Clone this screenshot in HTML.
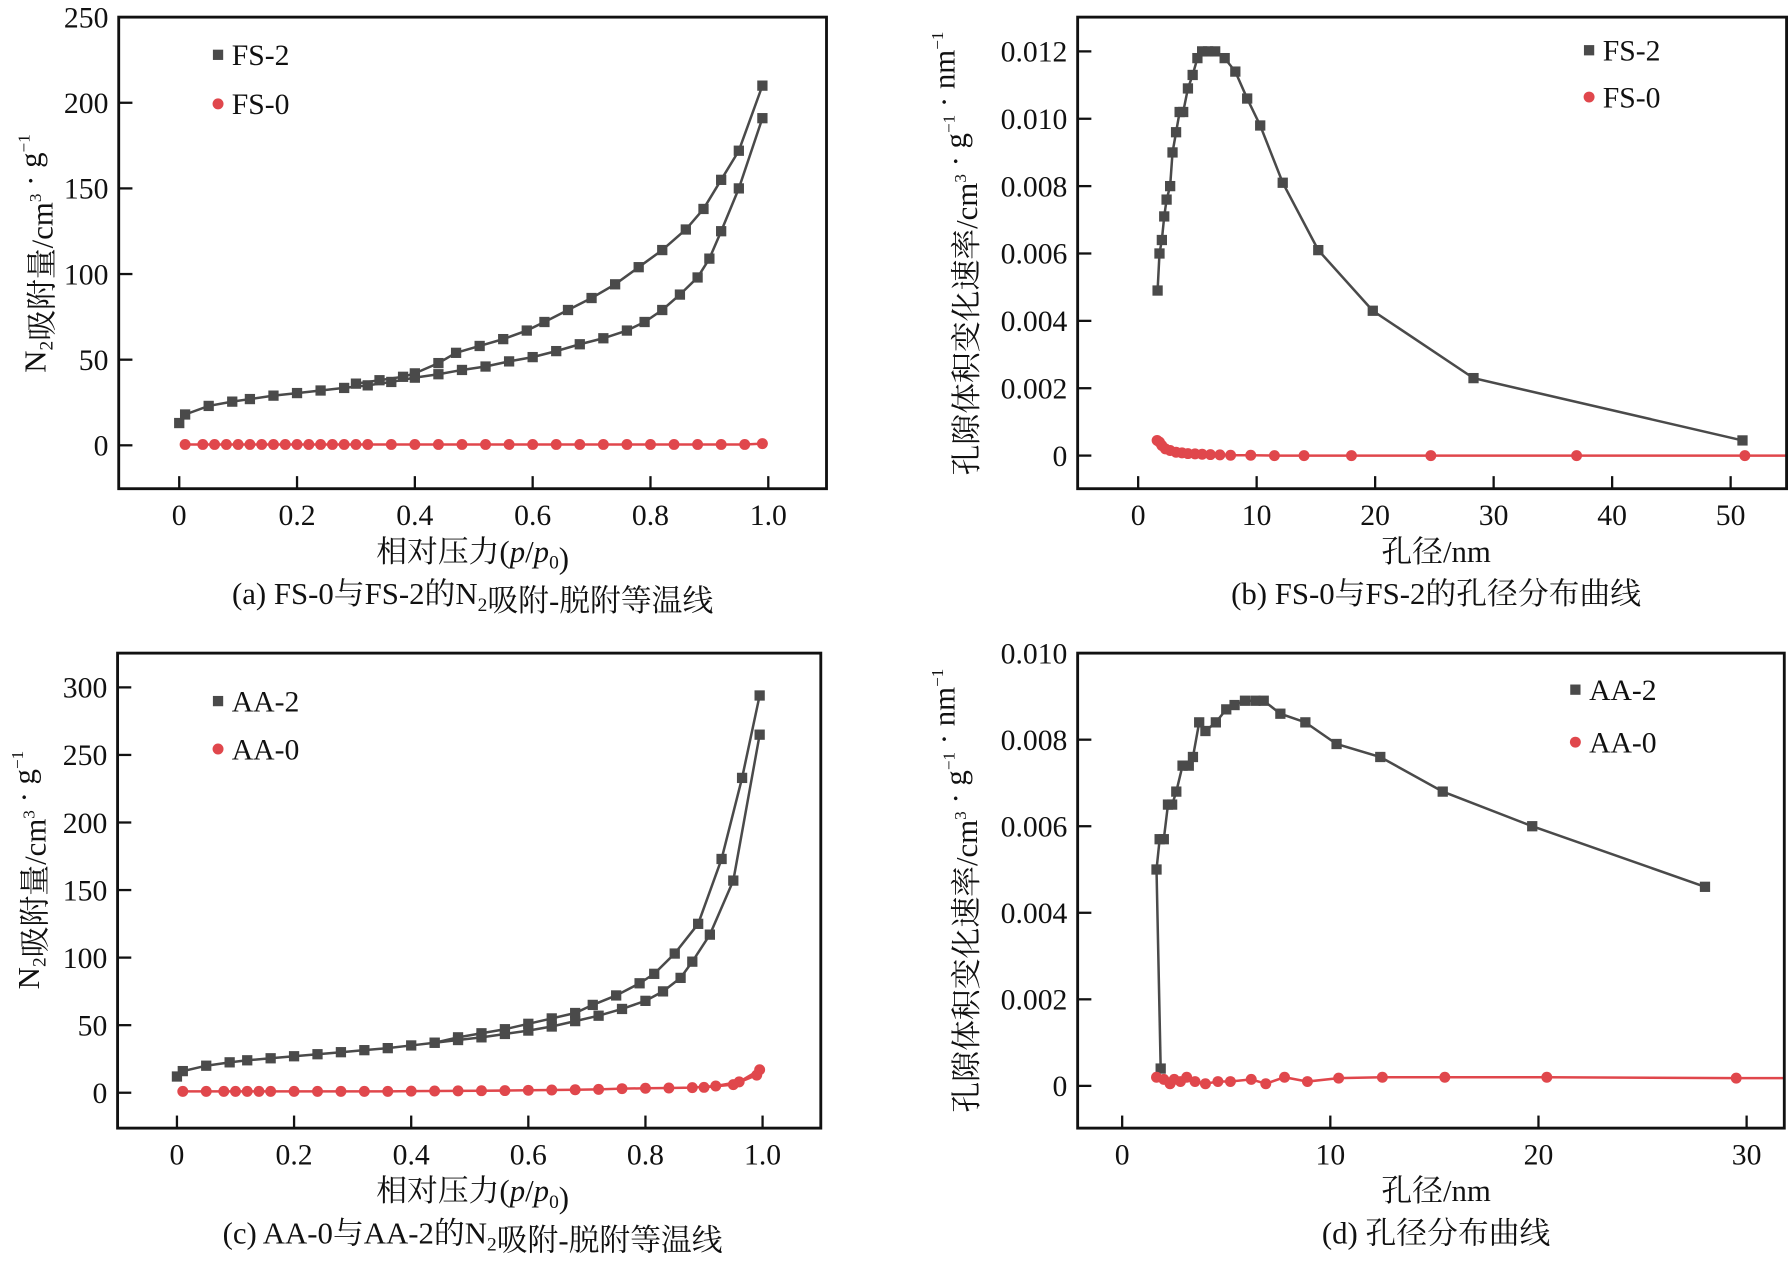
<!DOCTYPE html>
<html><head><meta charset="utf-8"><style>
html,body{margin:0;padding:0;background:#fff;width:1790px;height:1264px;overflow:hidden}
svg{display:block}
text{font-family:"Liberation Serif","Noto Serif CJK SC",serif;fill:#111}
</style></head><body>
<svg id="fig" width="1790" height="1264" viewBox="0 0 1568 1107" preserveAspectRatio="none" xmlns="http://www.w3.org/2000/svg"></svg>
<script>
// ---------- Data ----------
const aFs2AdsX=[0,0.01,0.05,0.09,0.12,0.16,0.2,0.24,0.28,0.32,0.36,0.40,0.44,0.48,0.52,0.56,0.60,0.64,0.68,0.72,0.76,0.79,0.82,0.85,0.88,0.9,0.92,0.95,0.99];
const aFs2AdsY=[13,18,23,25.5,27,29,30.5,32,33.5,35,37,39.5,41.5,44,46,49,51.5,55,59,62.5,67,72,79,88,98,109,125,150,191];
const aFs2DesX=[0.99,0.95,0.92,0.89,0.86,0.82,0.78,0.74,0.70,0.66,0.62,0.59,0.55,0.51,0.47,0.44,0.40,0.38,0.34,0.30];
const aFs2DesY=[210,172,155,138,126,114,104,94,86,79,72,67,62,58,54,48,42,40,38,36];
const aFs0X=[0.01,0.04,0.06,0.08,0.1,0.12,0.14,0.16,0.18,0.2,0.22,0.24,0.26,0.28,0.3,0.32,0.36,0.4,0.44,0.48,0.52,0.56,0.6,0.64,0.68,0.72,0.76,0.8,0.84,0.88,0.92,0.96,0.99];
const aFs0Y=[0.5,0.5,0.5,0.5,0.5,0.5,0.5,0.5,0.5,0.5,0.5,0.5,0.5,0.5,0.5,0.5,0.5,0.5,0.5,0.5,0.5,0.5,0.5,0.5,0.5,0.5,0.5,0.5,0.5,0.5,0.5,0.5,1];
const bFs2X=[1.64,1.8,2.0,2.2,2.4,2.7,2.9,3.2,3.5,3.8,4.2,4.6,5.0,5.4,5.9,6.5,7.3,8.2,9.2,10.3,12.2,15.2,19.8,28.3,51];
const bFs2Y=[0.0049,0.0060,0.0064,0.0071,0.0076,0.0080,0.0090,0.0096,0.0102,0.0102,0.0109,0.0113,0.0118,0.0120,0.0120,0.0120,0.0118,0.0114,0.0106,0.0098,0.0081,0.0061,0.0043,0.0023,0.00045];
const bFs0X=[1.6,1.8,2.0,2.3,2.7,3.2,3.7,4.2,4.8,5.4,6.1,6.9,7.8,9.5,11.5,14,18,24.7,37,51.2];
const bFs0Y=[0.00045,0.0004,0.0003,0.0002,0.00015,0.0001,0.00008,0.00006,0.00005,0.00004,0.00003,0.00002,0.00001,0.00001,0,0,0,0,0,0];
const cAa2AdsX=[0,0.01,0.05,0.09,0.12,0.16,0.2,0.24,0.28,0.32,0.36,0.40,0.44,0.48,0.52,0.56,0.60,0.64,0.68,0.72,0.76,0.80,0.83,0.86,0.88,0.91,0.95,0.995];
const cAa2AdsY=[12,16,20,22.5,24,25.5,27,28.5,30,31.5,33,35,37,39,41,43.5,46,49,53,57,62,68,75,85,97,117,157,265];
const cAa2DesX=[0.995,0.965,0.93,0.89,0.85,0.815,0.79,0.75,0.71,0.68,0.64,0.60,0.56,0.52,0.48,0.44];
const cAa2DesY=[294,233,173,125,103,88,81,72,65,59,55,51,47,44,41,37];
const cAa0X=[0.01,0.05,0.08,0.1,0.12,0.14,0.16,0.2,0.24,0.28,0.32,0.36,0.4,0.44,0.48,0.52,0.56,0.6,0.64,0.68,0.72,0.76,0.8,0.84,0.88,0.92,0.96,0.995,0.99,0.95,0.9];
const cAa0Y=[1,1,1,1,1,1,1,1,1,1,1,1,1.2,1.3,1.4,1.5,1.6,1.8,2,2.2,2.5,3,3.3,3.5,3.8,5,8,17,13,6,4];
const dAa2X=[1.85,1.65,1.8,2.0,2.2,2.4,2.6,2.9,3.2,3.4,3.7,4.0,4.5,5.0,5.4,5.9,6.4,6.8,7.6,8.8,10.3,12.4,15.4,19.7,28.0];
const dAa2Y=[0.0004,0.0050,0.0057,0.0057,0.0065,0.0065,0.0068,0.0074,0.0074,0.0076,0.0084,0.0082,0.0084,0.0087,0.0088,0.0089,0.0089,0.0089,0.0086,0.0084,0.0079,0.0076,0.0068,0.0060,0.0046];
const dAa0X=[1.65,2.0,2.3,2.5,2.8,3.1,3.5,4.0,4.6,5.2,6.2,6.9,7.8,8.9,10.4,12.5,15.5,20.4,29.5];
const dAa0Y=[0.0002,0.00015,0.00005,0.00015,0.0001,0.0002,0.0001,0.00005,0.0001,0.0001,0.00015,0.00005,0.0002,0.0001,0.00018,0.0002,0.0002,0.0002,0.00018];
const aTicksX=[0,0.2,0.4,0.6,0.8,1.0], aTickLabX=['0','0.2','0.4','0.6','0.8','1.0'];
const aTicksY=[0,50,100,150,200,250];
const bTicksX=[0,10,20,30,40,50];
const bTicksY=[0,0.002,0.004,0.006,0.008,0.010,0.012], bTickLabY=['0','0.002','0.004','0.006','0.008','0.010','0.012'];
const cTicksY=[0,50,100,150,200,250,300];
const dTicksX=[0,10,20,30];
const dTicksY=[0,0.002,0.004,0.006,0.008,0.010], dTickLabY=['0','0.002','0.004','0.006','0.008','0.010'];

const NS='http://www.w3.org/2000/svg';
const svg=document.getElementById('fig');
const GRAY='#4a4a4a', RED='#e0474c';
function mk(tag,attrs,parent){const e=document.createElementNS(NS,tag);for(const k in attrs)e.setAttribute(k,attrs[k]);(parent||svg).appendChild(e);return e;}
function lin(d0,d1,p0,p1){return v=>p0+(v-d0)*(p1-p0)/(d1-d0);}

function panel(o){
  const g=mk('g',{});
  
  
  const sx=lin(o.x0,o.x1,o.px0,o.px1), sy=lin(o.y0,o.y1,o.py0,o.py1);
  const clipId=o.name+'-clip';
  const cp=mk('clipPath',{id:clipId},g);mk('rect',{x:o.L,y:o.T,width:o.R-o.L,height:o.B-o.T},cp);
  o.tx.forEach((v,i)=>{
    const t=mk('line',{x1:sx(v),x2:sx(v),y1:o.B,y2:o.B-11,stroke:'#111','stroke-width':2},g);
    
    
    const l=mk('text',{x:sx(v),y:o.B+32,'text-anchor':'middle','font-size':26},g);
    l.textContent=o.txl?o.txl[i]:String(v);
    
    
  });
  o.ty.forEach((v,i)=>{
    const t=mk('line',{x1:o.L,x2:o.L+12,y1:sy(v),y2:sy(v),stroke:'#111','stroke-width':2},g);
    
    
    const l=mk('text',{x:o.L-9,y:sy(v)+9,'text-anchor':'end','font-size':26},g);
    l.textContent=o.tyl?o.tyl[i]:String(v);
    
    
  });
  const plot=mk('g',{'clip-path':'url(#'+clipId+')'},g);
  o.series.forEach(s=>{
    const sg=mk('g',{},plot);
    
    
    const pts=s.x.map((v,i)=>sx(v)+','+sy(s.y[i])).join(' ');
    mk('polyline',{points:pts,fill:'none',stroke:s.c,'stroke-width':2.2},sg);
    s.x.forEach((v,i)=>{
      let m;
      if(s.sq) m=mk('rect',{x:sx(v)-4.5,y:sy(s.y[i])-4.5,width:9,height:9,fill:s.c},sg);
      else m=mk('circle',{cx:sx(v),cy:sy(s.y[i]),r:4.8,fill:s.c},sg);
      
      
    });
    if(s.ext){mk('line',{x1:sx(s.x[s.x.length-1]),y1:sy(s.y[s.y.length-1]),x2:o.R,y2:sy(s.y[s.y.length-1]),stroke:s.c,'stroke-width':2.2},sg);}
  });
  mk('rect',{x:o.L,y:o.T,width:o.R-o.L,height:o.B-o.T,fill:'none',stroke:'#111','stroke-width':2.5},g);
  o.leg.forEach((lg,i)=>{
    const lgG=mk('g',{},g);
    
    
    const y=lg.y;
    if(lg.sq) mk('rect',{x:lg.x-4.5,y:y-4.5,width:9,height:9,fill:lg.c},lgG);
    else mk('circle',{cx:lg.x,cy:y,r:4.8,fill:lg.c},lgG);
    const t=mk('text',{x:lg.x+12,y:y+9,'font-size':26},lgG);t.textContent=lg.t;
  });
  const xt=mk('text',{x:o.xtx,y:o.B+64,'text-anchor':'middle','font-size':27},g);
  xt.innerHTML=o.xtitle;
  
  
  const yt=mk('text',{transform:'translate('+o.ytx+','+o.yty+') rotate(-90)','text-anchor':'middle','font-size':27},g);
  yt.innerHTML=o.ytitle;
  
  
  const cap=mk('text',{x:o.xtx,y:o.B+101,'text-anchor':'middle','font-size':27},g);
  cap.innerHTML=o.cap;
  
  
}
const sub=s=>'<tspan dy="6" font-size="17">'+s+'</tspan><tspan dy="-6"></tspan>';
const sup=s=>'<tspan dy="-10" font-size="15">'+s+'</tspan><tspan dy="10"></tspan>';
const yIso='N'+sub('2')+'吸附量/cm'+sup('3')+' · g'+sup('−1');
const yPsd='孔隙体积变化速率/cm'+sup('3')+' · g'+sup('−1')+' · nm'+sup('−1');

panel({name:'panel-a',L:104,R:724,T:15,B:428,x0:0,x1:1,px0:157,px1:673,y0:0,y1:250,py0:390,py1:15,
  tx:aTicksX,txl:aTickLabX,ty:aTicksY,xtx:414,ytx:40,yty:222,
  xtitle:'相对压力(<tspan font-style="italic">p</tspan>/<tspan font-style="italic">p</tspan>'+sub('0')+')',ytitle:yIso,
  cap:'(a) FS-0与FS-2的N'+sub('2')+'吸附-脱附等温线',
  leg:[{x:191,y:48,sq:true,c:GRAY,t:'FS-2'},{x:191,y:91,sq:false,c:RED,t:'FS-0'}],
  series:[{name:'fs2-adsorption',x:aFs2AdsX,y:aFs2AdsY,c:GRAY,sq:true},{name:'fs2-desorption',x:aFs2DesX,y:aFs2DesY,c:GRAY,sq:true},{name:'fs0-series',x:aFs0X,y:aFs0Y,c:RED,sq:false}]});
panel({name:'panel-b',L:944,R:1565,T:15,B:428,x0:0,x1:50,px0:997,px1:1516,y0:0,y1:0.012,py0:399,py1:45,
  tx:bTicksX,ty:bTicksY,tyl:bTickLabY,xtx:1258,ytx:856,yty:222,
  xtitle:'孔径/nm',ytitle:yPsd,cap:'(b) FS-0与FS-2的孔径分布曲线',
  leg:[{x:1392,y:44,sq:true,c:GRAY,t:'FS-2'},{x:1392,y:85,sq:false,c:RED,t:'FS-0'}],
  series:[{name:'fs2-psd',x:bFs2X,y:bFs2Y,c:GRAY,sq:true},{name:'fs0-psd',x:bFs0X,y:bFs0Y,c:RED,sq:false,ext:true}]});
panel({name:'panel-c',L:103,R:719,T:572,B:988,x0:0,x1:1,px0:155,px1:668,y0:0,y1:300,py0:957,py1:602,
  tx:aTicksX,txl:aTickLabX,ty:cTicksY,xtx:414,ytx:34,yty:762,
  xtitle:'相对压力(<tspan font-style="italic">p</tspan>/<tspan font-style="italic">p</tspan>'+sub('0')+')',ytitle:yIso,
  cap:'(c) AA-0与AA-2的N'+sub('2')+'吸附-脱附等温线',
  leg:[{x:191,y:614,sq:true,c:GRAY,t:'AA-2'},{x:191,y:656,sq:false,c:RED,t:'AA-0'}],
  series:[{name:'aa2-adsorption',x:cAa2AdsX,y:cAa2AdsY,c:GRAY,sq:true},{name:'aa2-desorption',x:cAa2DesX,y:cAa2DesY,c:GRAY,sq:true},{name:'aa0-series',x:cAa0X,y:cAa0Y,c:RED,sq:false}]});
panel({name:'panel-d',L:944,R:1563,T:572,B:988,x0:0,x1:30,px0:983,px1:1530,y0:0,y1:0.010,py0:951,py1:572,
  tx:dTicksX,ty:dTicksY,tyl:dTickLabY,xtx:1258,ytx:856,yty:780,
  xtitle:'孔径/nm',ytitle:yPsd,cap:'(d) 孔径分布曲线',
  leg:[{x:1380,y:604,sq:true,c:GRAY,t:'AA-2'},{x:1380,y:650,sq:false,c:RED,t:'AA-0'}],
  series:[{name:'aa2-psd',x:dAa2X,y:dAa2Y,c:GRAY,sq:true},{name:'aa0-psd',x:dAa0X,y:dAa0Y,c:RED,sq:false,ext:true}]});
</script>
</body></html>
